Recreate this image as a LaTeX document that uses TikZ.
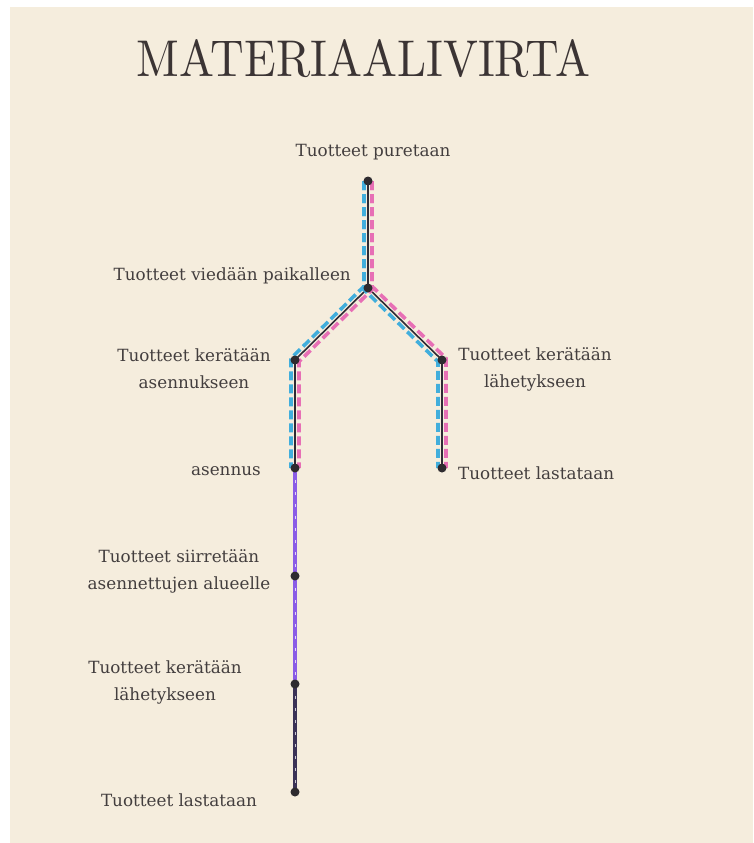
\documentclass[tikz,border=0pt]{standalone}
\usepackage{graphicx}
\usepackage{fontspec}
\newfontfamily\labelfont{DejaVu Serif}
\usetikzlibrary{calc}
\definecolor{bgc}{HTML}{F5EDDD}
\definecolor{bluec}{HTML}{41AEDC}
\definecolor{pinkc}{HTML}{E76FB5}
\definecolor{purplec}{HTML}{8A5CE6}
\definecolor{darkc}{HTML}{3B3356}
\definecolor{linec}{HTML}{2E2B35}
\definecolor{dotc}{HTML}{2E2B2F}
\definecolor{txtc}{HTML}{433E3E}
\definecolor{titlec}{HTML}{3B3434}
\pgfdeclarelayer{bglayer}
\pgfdeclarelayer{lines}
\pgfsetlayers{bglayer,lines,main}
\begin{document}
\begin{tikzpicture}[x=1pt,y=-1pt,
  dot/.style={circle,fill=dotc,inner sep=0,minimum size=9pt},
  lbl/.style={font=\labelfont\fontsize{16.8}{27}\selectfont,text=txtc,inner sep=0,align=center},
  flow/.style={line width=1.6pt,draw=linec},
  bluedash/.style={line width=3.6pt,draw=bluec,dash pattern=on 9pt off 4pt},
  pinkdash/.style={line width=3.6pt,draw=pinkc,dash pattern=on 9pt off 4pt},
  purpleline/.style={line width=4.2pt,draw=purplec},
  darkline/.style={line width=3.2pt,draw=darkc},
  whitedash/.style={line width=0.9pt,draw=white,opacity=0.75,dash pattern=on 3pt off 9pt}
]
\useasboundingbox (0,0) rectangle (753,843);
\begin{pgfonlayer}{bglayer}
\fill[white] (0,0) rectangle (753,843);
\fill[bgc] (10,7) rectangle (753,843);
\end{pgfonlayer}

\node[inner sep=0,text=titlec] (title) at (363.5,58.5) {\resizebox{453pt}{37pt}{MATERIAALIVIRTA}};

\node[dot] (p1) at (368,181) {};
\node[dot] (p2) at (368,288) {};
\node[dot] (p3) at (295,360) {};
\node[dot] (p4) at (442,360) {};
\node[dot] (p5) at (295,468) {};
\node[dot] (p6) at (442,468) {};
\node[dot] (p7) at (295,576) {};
\node[dot] (p8) at (295,684) {};
\node[dot] (p9) at (295,792) {};

\begin{pgfonlayer}{lines}
\draw[flow] (p1.center) -- (p2.center) -- (p3.center) -- (p5.center) -- (p7.center) -- (p8.center) -- (p9.center);
\draw[flow] (p2.center) -- (p4.center) -- (p6.center);
\draw[bluedash] ($(p1)+(-4,0)$) -- ($(p2)+(-4,-1.66)$) -- ($(p3)+(-4,-1.66)$) -- ($(p5)+(-4,0)$);
\draw[bluedash] ($(p1)+(-4,0)$) -- ($(p2)+(-4,1.66)$) -- ($(p4)+(-4,1.66)$) -- ($(p6)+(-4,0)$);
\draw[pinkdash] ($(p1)+(4,0)$) -- ($(p2)+(4,1.66)$) -- ($(p3)+(4,1.66)$) -- ($(p5)+(4,0)$);
\draw[pinkdash] ($(p1)+(4,0)$) -- ($(p2)+(4,-1.66)$) -- ($(p4)+(4,-1.66)$) -- ($(p6)+(4,0)$);
\draw[purpleline] (p5.center) -- (p8.center);
\draw[darkline] (p8.center) -- (p9.center);
\draw[whitedash] (p5.center) -- (p9.center);
\end{pgfonlayer}

\node[lbl] (t1) at (373,152) {Tuotteet puretaan};
\node[lbl,anchor=east] (t2) at (351,276) {Tuotteet viedään paikalleen};
\node[lbl] (t3) at (194,369) {Tuotteet kerätään\\asennukseen};
\node[lbl] (t4) at (535,369) {Tuotteet kerätään\\lähetykseen};
\node[lbl,anchor=east] (t5) at (261,471) {asennus};
\node[lbl,anchor=west] (t6) at (458,473) {Tuotteet lastataan};
\node[lbl] (t7) at (179,571) {Tuotteet siirretään\\asennettujen alueelle};
\node[lbl] (t8) at (165,682) {Tuotteet kerätään\\lähetykseen};
\node[lbl] (t9) at (179,800) {Tuotteet lastataan};
\end{tikzpicture}
\end{document}
